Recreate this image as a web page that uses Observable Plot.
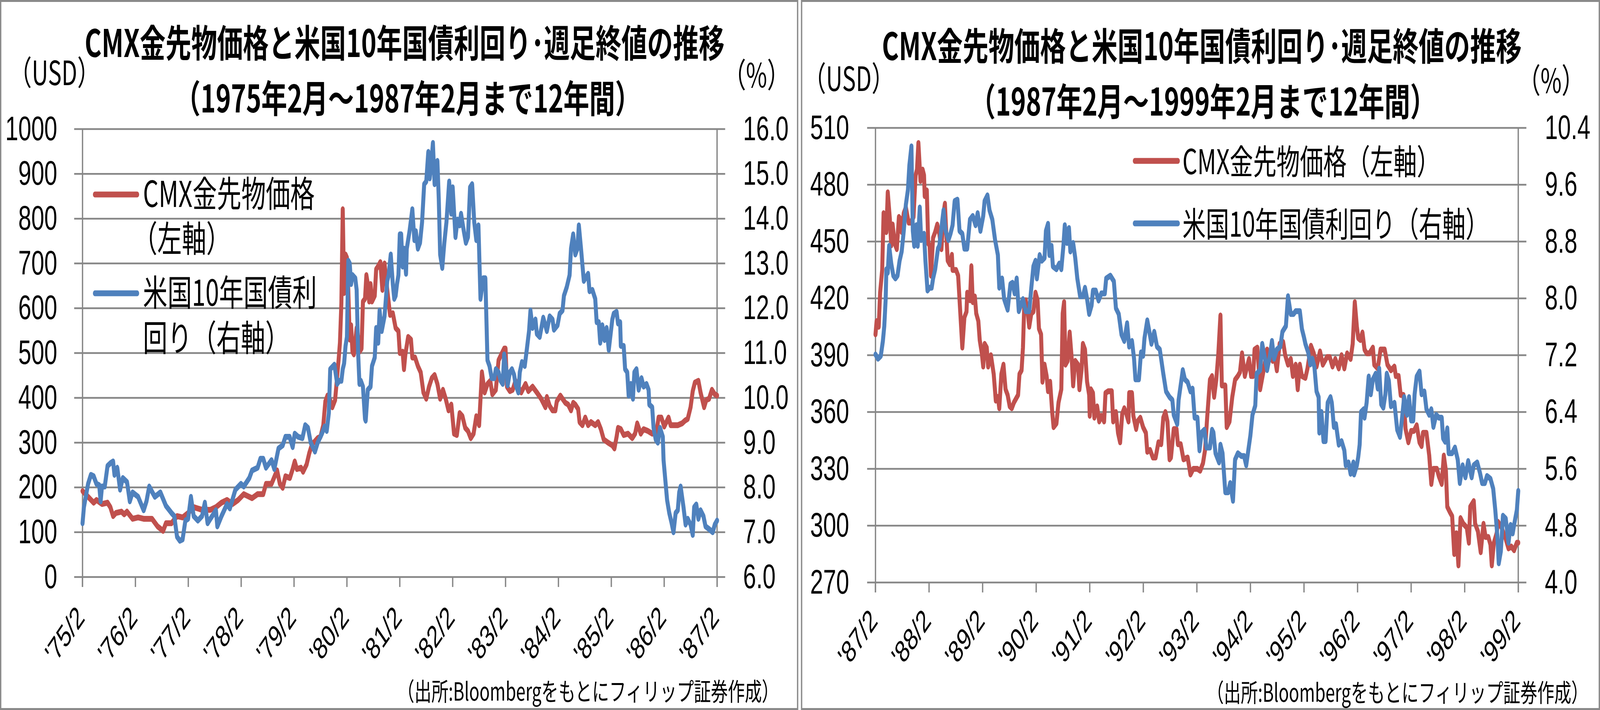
<!DOCTYPE html>
<html><head><meta charset="utf-8">
<script src="https://cdn.jsdelivr.net/npm/d3@7"></script>
<script src="https://cdn.jsdelivr.net/npm/@observablehq/plot@0.6"></script>
<style>
html,body{margin:0;padding:0;background:#fff;overflow:hidden;}
#root{position:relative;width:6019px;height:1818px;overflow:hidden;background:#fff;font-family:"Noto Sans CJK JP","Noto Sans",sans-serif;transform-origin:0 0;}
.panel{position:absolute;top:0;height:1818px;}
.panel svg{position:absolute;left:0;top:0;}
.frame{position:absolute;left:0;top:0;right:0;bottom:0;border:5px solid #8a8a8a;box-sizing:border-box;pointer-events:none;}
</style></head><body><div id="root"></div>
<script>
// ---------- data (x = years elapsed since the first February tick) ----------
const titleMain = "CMX金先物価格と米国10年国債利回り･週足終値の推移";
const titleSubA = "（1975年2月～1987年2月まで12年間）";
const titleSubB = "（1987年2月～1999年2月まで12年間）";
const legendGold = "CMX金先物価格";
const legendYield = "米国10年国債利回り";
const sourceNote = "（出所:Bloombergをもとにフィリップ証券作成）";

const xLabelsA = ["'75/2","'76/2","'77/2","'78/2","'79/2","'80/2","'81/2","'82/2","'83/2","'84/2","'85/2","'86/2","'87/2"];
const xLabelsB = ["'87/2","'88/2","'89/2","'90/2","'91/2","'92/2","'93/2","'94/2","'95/2","'96/2","'97/2","'98/2","'99/2"];
const leftTicksA = [0,100,200,300,400,500,600,700,800,900,1000];
const rightTicksA = [6,7,8,9,10,11,12,13,14,15,16];
const leftTicksB = [270,300,330,360,390,420,450,480,510];
const rightTicksB = [4.0,4.8,5.6,6.4,7.2,8.0,8.8,9.6,10.4];

const goldA = [[0,192],[0.105,179],[0.21,166],[0.263,172],[0.368,163],[0.473,166],[0.526,156],[0.578,136],[0.631,143],[0.736,146],[0.788,140],[0.841,146],[0.946,130],[1.051,133],[1.156,130],[1.314,130],[1.419,113],[1.524,103],[1.577,120],[1.682,120],[1.787,136],[1.892,133],[1.997,143],[2.102,156],[2.26,150],[2.418,150],[2.523,156],[2.628,166],[2.733,172],[2.838,163],[2.943,172],[3.049,185],[3.101,182],[3.206,176],[3.311,185],[3.417,185],[3.469,208],[3.574,208],[3.679,238],[3.732,208],[3.785,199],[3.837,225],[3.921,221],[3.974,241],[4.013,258],[4.053,241],[4.132,244],[4.171,235],[4.237,251],[4.289,277],[4.342,297],[4.395,303],[4.447,310],[4.5,313],[4.553,339],[4.592,392],[4.632,405],[4.684,395],[4.724,379],[4.776,395],[4.803,431],[4.842,484],[4.868,523],[4.895,611],[4.921,821],[4.947,634],[4.974,720],[5,713],[5.026,641],[5.053,530],[5.079,562],[5.105,503],[5.132,497],[5.184,556],[5.211,536],[5.237,503],[5.276,510],[5.303,615],[5.342,621],[5.368,674],[5.395,654],[5.421,615],[5.447,654],[5.474,615],[5.526,628],[5.553,687],[5.592,694],[5.632,703],[5.671,641],[5.711,700],[5.763,641],[5.816,585],[5.868,589],[5.921,556],[5.974,549],[6,500],[6.053,503],[6.079,464],[6.105,497],[6.158,536],[6.211,530],[6.237,490],[6.289,490],[6.342,471],[6.395,457],[6.447,412],[6.5,398],[6.553,425],[6.605,444],[6.658,451],[6.711,431],[6.763,398],[6.816,418],[6.868,398],[6.921,372],[6.974,385],[7.026,320],[7.079,317],[7.132,366],[7.184,359],[7.237,333],[7.289,326],[7.342,310],[7.395,320],[7.447,359],[7.5,339],[7.553,457],[7.605,412],[7.658,431],[7.711,438],[7.75,408],[7.816,418],[7.868,484],[7.921,497],[7.974,510],[8,510],[8.027,425],[8.081,415],[8.135,418],[8.188,438],[8.242,425],[8.296,412],[8.377,431],[8.431,415],[8.511,425],[8.592,412],[8.673,398],[8.754,379],[8.781,402],[8.834,382],[8.888,372],[8.942,372],[8.969,392],[9.036,405],[9.077,398],[9.131,389],[9.184,385],[9.238,372],[9.279,389],[9.319,385],[9.373,375],[9.4,346],[9.454,339],[9.507,356],[9.561,339],[9.615,346],[9.696,339],[9.75,346],[9.803,330],[9.857,307],[9.938,300],[10.019,294],[10.059,287],[10.1,313],[10.127,333],[10.18,330],[10.234,317],[10.315,320],[10.396,310],[10.45,320],[10.49,343],[10.557,320],[10.611,330],[10.692,326],[10.773,320],[10.853,323],[10.894,356],[10.947,356],[11.001,336],[11.082,356],[11.122,339],[11.257,339],[11.338,343],[11.392,349],[11.445,353],[11.499,379],[11.54,415],[11.58,434],[11.647,438],[11.688,412],[11.755,379],[11.795,395],[11.849,398],[11.903,418],[11.957,408],[12,405]];

const yieldA = [[0,7.2],[0.026,7.56],[0.105,8.08],[0.158,8.28],[0.21,8.25],[0.263,8.08],[0.315,8.05],[0.342,7.69],[0.368,8.02],[0.42,8.02],[0.473,8.48],[0.526,8.54],[0.578,8.58],[0.604,8.28],[0.657,8.44],[0.71,7.95],[0.762,8.21],[0.841,8.12],[0.894,7.69],[0.946,7.89],[1.051,7.79],[1.156,7.49],[1.209,7.69],[1.261,8.02],[1.367,7.79],[1.472,7.89],[1.577,7.59],[1.682,7.43],[1.735,7.36],[1.787,6.9],[1.84,6.81],[1.892,6.84],[1.945,7.26],[1.997,7.3],[2.05,7.79],[2.102,7.36],[2.181,7.26],[2.26,7.36],[2.313,7.66],[2.365,7.2],[2.418,7.3],[2.523,7.49],[2.549,7.13],[2.628,7.36],[2.733,7.63],[2.786,7.53],[2.891,7.95],[2.996,8.08],[3.049,8.02],[3.154,8.21],[3.206,8.38],[3.311,8.44],[3.364,8.64],[3.417,8.64],[3.469,8.44],[3.574,8.61],[3.627,8.41],[3.706,8.87],[3.785,8.94],[3.837,9.13],[3.916,9.13],[3.974,8.9],[4.013,9.2],[4.079,9.13],[4.158,9.1],[4.211,9.39],[4.263,9.33],[4.316,9.0],[4.395,8.8],[4.447,9.0],[4.526,9.2],[4.579,9.36],[4.618,9.26],[4.658,9.66],[4.684,10.64],[4.763,10.74],[4.816,10.31],[4.855,10.38],[4.895,10.38],[4.921,10.64],[4.947,10.77],[4.974,11.16],[5,11.36],[5.026,13.06],[5.053,13.0],[5.079,12.54],[5.105,12.74],[5.158,12.67],[5.184,12.41],[5.211,11.03],[5.237,10.31],[5.263,10.38],[5.303,10.25],[5.342,9.53],[5.355,9.49],[5.395,10.18],[5.447,10.25],[5.474,10.71],[5.526,10.9],[5.553,11.56],[5.592,11.23],[5.618,11.95],[5.658,11.49],[5.711,11.82],[5.763,12.61],[5.789,12.74],[5.829,13.2],[5.868,12.54],[5.895,12.21],[5.921,12.28],[5.947,12.54],[5.974,12.74],[6,13.65],[6.026,13.65],[6.053,12.93],[6.079,13.33],[6.118,12.77],[6.132,13.33],[6.184,13.72],[6.237,14.21],[6.276,13.52],[6.303,13.72],[6.342,13.33],[6.382,13.46],[6.421,13.92],[6.461,14.77],[6.5,14.83],[6.539,15.49],[6.566,14.9],[6.605,15.36],[6.626,15.69],[6.658,14.77],[6.684,15.23],[6.711,15.29],[6.737,14.44],[6.763,13.2],[6.803,12.9],[6.842,13.46],[6.882,13.92],[6.934,14.83],[6.974,14.11],[7,14.7],[7.053,13.59],[7.092,13.98],[7.132,13.85],[7.158,14.11],[7.211,13.72],[7.25,13.46],[7.289,13.59],[7.329,14.7],[7.368,14.77],[7.408,13.92],[7.447,13.52],[7.487,13.85],[7.526,12.21],[7.579,12.67],[7.618,12.67],[7.658,10.84],[7.697,10.71],[7.737,10.44],[7.789,10.44],[7.816,10.64],[7.868,10.57],[7.908,10.38],[7.947,10.31],[7.973,10.97],[8.013,10.64],[8.04,10.28],[8.081,10.57],[8.121,10.64],[8.162,10.51],[8.188,10.31],[8.242,10.12],[8.269,10.57],[8.31,10.8],[8.363,10.71],[8.404,11.1],[8.444,11.49],[8.471,11.95],[8.511,11.56],[8.565,11.75],[8.592,11.43],[8.646,11.36],[8.713,11.79],[8.781,11.49],[8.834,11.82],[8.888,11.75],[8.915,11.52],[8.983,11.62],[9.023,11.88],[9.077,11.95],[9.104,12.28],[9.157,12.47],[9.211,12.74],[9.238,13.33],[9.279,13.65],[9.319,13.2],[9.359,13.33],[9.386,13.85],[9.427,13.33],[9.48,12.61],[9.561,12.77],[9.588,12.38],[9.642,12.41],[9.696,12.21],[9.723,11.69],[9.763,11.69],[9.79,11.23],[9.83,11.62],[9.871,11.29],[9.911,11.56],[9.952,11.07],[10.019,11.75],[10.046,11.88],[10.1,11.92],[10.127,11.66],[10.167,11.69],[10.18,11.16],[10.234,11.16],[10.261,10.64],[10.301,10.57],[10.328,10.05],[10.369,10.31],[10.409,9.98],[10.436,10.57],[10.476,10.64],[10.517,10.18],[10.571,10.44],[10.611,10.25],[10.665,10.31],[10.705,10.18],[10.719,9.85],[10.773,9.79],[10.799,9.33],[10.84,9.07],[10.88,9.0],[10.921,9.33],[10.974,9.13],[10.988,8.61],[11.028,8.08],[11.055,7.72],[11.096,7.43],[11.136,7.23],[11.176,7.0],[11.217,7.43],[11.257,7.49],[11.284,7.89],[11.311,8.02],[11.365,7.56],[11.405,7.17],[11.445,7.3],[11.499,7.17],[11.54,6.94],[11.567,7.56],[11.607,7.62],[11.647,7.3],[11.688,7.49],[11.742,7.36],[11.782,7.13],[11.849,7.07],[11.917,7.0],[11.957,7.17],[12,7.26]];

const goldB = [[0,401],[0.021,408],[0.06,405],[0.086,423],[0.125,435],[0.151,465],[0.19,463],[0.203,455],[0.229,476],[0.268,462],[0.294,448],[0.32,459],[0.359,449],[0.398,446],[0.437,463],[0.463,462],[0.489,455],[0.528,465],[0.567,468],[0.619,460],[0.658,460],[0.71,463],[0.749,485],[0.775,488],[0.801,502],[0.84,482],[0.88,488],[0.906,485],[0.919,474],[0.958,477],[0.984,449],[1.01,448],[1.036,432],[1.075,452],[1.114,455],[1.153,459],[1.192,454],[1.231,446],[1.27,465],[1.296,470],[1.322,454],[1.348,440],[1.387,438],[1.426,443],[1.439,435],[1.504,435],[1.543,432],[1.582,413],[1.621,394],[1.66,410],[1.699,413],[1.712,423],[1.764,419],[1.79,437],[1.816,418],[1.855,421],[1.881,412],[1.92,408],[1.946,398],[1.985,391],[2.011,384],[2.037,396],[2.077,394],[2.103,384],[2.155,390],[2.207,380],[2.246,366],[2.285,368],[2.311,362],[2.35,380],[2.389,385],[2.428,372],[2.467,369],[2.506,363],[2.545,362],[2.584,365],[2.623,367],[2.662,369],[2.688,380],[2.727,382],[2.753,394],[2.779,418],[2.805,419],[2.844,412],[2.87,405],[2.909,412],[2.948,413],[2.987,423],[3.026,419],[3.052,404],[3.091,401],[3.117,376],[3.156,385],[3.195,379],[3.221,371],[3.26,376],[3.299,360],[3.325,352],[3.378,354],[3.417,365],[3.469,372],[3.495,412],[3.521,418],[3.547,385],[3.586,387],[3.625,402],[3.664,388],[3.69,374],[3.729,387],[3.781,385],[3.807,372],[3.846,382],[3.872,396],[3.911,393],[3.95,376],[3.989,369],[4.0,358],[4.021,372],[4.06,370],[4.086,357],[4.138,363],[4.177,355],[4.216,358],[4.268,355],[4.294,370],[4.346,371],[4.411,371],[4.437,355],[4.489,360],[4.528,349],[4.567,344],[4.606,359],[4.645,362],[4.684,359],[4.723,355],[4.736,370],[4.788,370],[4.814,358],[4.866,351],[4.892,355],[4.944,357],[4.996,352],[5.048,349],[5.074,339],[5.126,340],[5.178,336],[5.23,336],[5.282,344],[5.334,343],[5.373,357],[5.412,360],[5.451,355],[5.49,335],[5.516,336],[5.568,351],[5.62,351],[5.646,343],[5.698,343],[5.75,335],[5.828,336],[5.88,327],[5.932,330],[6.01,330],[6.062,329],[6.114,333],[6.153,340],[6.192,357],[6.244,377],[6.283,379],[6.322,368],[6.362,377],[6.401,391],[6.44,411],[6.466,374],[6.531,374],[6.557,352],[6.609,355],[6.661,368],[6.713,377],[6.765,379],[6.804,381],[6.843,391],[6.895,379],[6.973,388],[7.012,379],[7.051,379],[7.077,393],[7.129,394],[7.181,372],[7.233,380],[7.311,393],[7.363,390],[7.415,387],[7.441,391],[7.493,382],[7.545,396],[7.61,397],[7.649,390],[7.701,385],[7.753,388],[7.792,379],[7.844,385],[7.883,372],[7.922,385],[7.961,379],[8.026,378],[8.065,383],[8.13,395],[8.182,391],[8.234,384],[8.299,392],[8.351,385],[8.429,389],[8.481,389],[8.532,384],[8.584,388],[8.649,383],[8.701,390],[8.753,383],[8.805,391],[8.87,388],[8.909,396],[8.948,418],[8.987,405],[9.013,399],[9.052,398],[9.091,402],[9.13,393],[9.169,391],[9.221,391],[9.286,394],[9.312,385],[9.377,383],[9.429,393],[9.506,393],[9.558,385],[9.623,382],[9.688,384],[9.714,379],[9.766,379],[9.805,369],[9.857,369],[9.896,351],[9.948,344],[10,350],[10.052,350],[10.104,353],[10.156,344],[10.195,342],[10.221,349],[10.286,349],[10.338,337],[10.377,322],[10.416,330],[10.481,330],[10.519,326],[10.571,322],[10.61,337],[10.649,329],[10.675,310],[10.727,307],[10.766,305],[10.805,285],[10.844,296],[10.883,279],[10.922,304],[10.974,301],[11.039,299],[11.078,291],[11.104,310],[11.169,313],[11.195,301],[11.247,297],[11.299,286],[11.351,301],[11.39,294],[11.442,294],[11.481,290],[11.506,279],[11.545,291],[11.597,296],[11.623,302],[11.688,299],[11.766,293],[11.818,288],[11.87,289],[11.922,287],[11.974,291],[12,291]];

const yieldB = [[0,7.21],[0.047,7.15],[0.099,7.19],[0.138,7.4],[0.164,7.61],[0.19,7.99],[0.203,8.41],[0.229,8.36],[0.255,8.74],[0.294,8.49],[0.333,8.32],[0.372,8.28],[0.411,8.32],[0.45,8.53],[0.489,8.66],[0.528,8.95],[0.567,9.32],[0.606,9.53],[0.632,9.87],[0.671,10.14],[0.697,8.95],[0.723,8.74],[0.762,9.03],[0.788,8.74],[0.827,9.28],[0.853,8.82],[0.906,8.91],[0.932,8.53],[0.971,8.11],[1.01,8.15],[1.049,8.15],[1.075,8.28],[1.114,8.41],[1.166,8.7],[1.192,8.74],[1.231,8.99],[1.27,9.24],[1.309,8.95],[1.361,8.82],[1.4,8.91],[1.439,9.03],[1.478,9.37],[1.53,9.39],[1.569,8.95],[1.621,8.91],[1.66,8.7],[1.712,8.7],[1.764,9.11],[1.816,9.16],[1.868,9.03],[1.907,9.2],[1.959,8.95],[2.011,9.16],[2.037,9.37],[2.09,9.45],[2.129,9.24],[2.181,9.11],[2.233,8.82],[2.285,8.61],[2.311,8.15],[2.363,8.28],[2.402,7.99],[2.467,7.84],[2.519,8.2],[2.558,8.22],[2.597,8.07],[2.636,8.28],[2.675,7.82],[2.753,7.99],[2.805,7.82],[2.87,7.82],[2.909,8.15],[2.948,8.45],[2.987,8.53],[3.013,8.28],[3.065,8.61],[3.104,8.53],[3.156,8.57],[3.182,8.95],[3.221,9.05],[3.247,8.61],[3.286,8.74],[3.312,8.45],[3.378,8.41],[3.43,8.49],[3.469,8.41],[3.508,8.74],[3.534,9.03],[3.573,8.78],[3.612,8.99],[3.638,8.66],[3.69,8.78],[3.729,8.57],[3.768,8.28],[3.82,8.03],[3.872,8.03],[3.911,8.15],[3.95,7.99],[3.989,7.78],[4.034,7.9],[4.06,8.11],[4.112,8.11],[4.164,7.97],[4.216,8.07],[4.281,8.07],[4.307,8.28],[4.385,8.32],[4.45,8.24],[4.489,7.86],[4.541,7.78],[4.593,7.49],[4.645,7.4],[4.697,7.65],[4.736,7.32],[4.788,7.4],[4.827,7.15],[4.853,6.86],[4.918,6.86],[4.957,7.24],[4.996,7.19],[5.022,7.44],[5.074,7.69],[5.113,7.53],[5.152,7.36],[5.204,7.53],[5.256,7.32],[5.308,7.28],[5.373,6.94],[5.425,6.69],[5.49,6.61],[5.542,6.57],[5.568,6.36],[5.633,6.23],[5.659,6.57],[5.698,6.78],[5.737,6.99],[5.776,6.86],[5.828,6.82],[5.88,6.69],[5.919,6.73],[5.958,6.32],[6.01,6.32],[6.049,5.86],[6.088,6.11],[6.14,6.15],[6.179,5.9],[6.244,5.9],[6.283,6.15],[6.309,6.11],[6.348,5.82],[6.414,5.69],[6.44,5.94],[6.479,5.82],[6.531,5.27],[6.583,5.27],[6.622,5.4],[6.674,5.15],[6.713,5.73],[6.765,5.82],[6.83,5.78],[6.882,5.78],[6.921,5.65],[6.96,5.86],[6.999,6.07],[7.038,6.36],[7.09,6.49],[7.116,6.94],[7.181,6.99],[7.22,7.36],[7.272,7.15],[7.311,6.99],[7.363,7.19],[7.402,7.4],[7.441,7.15],[7.493,7.28],[7.558,7.32],[7.597,7.53],[7.662,7.61],[7.701,8.03],[7.753,7.78],[7.805,7.78],[7.844,7.82],[7.883,7.82],[7.922,7.82],[7.961,7.57],[8,7.45],[8.026,7.36],[8.078,7.24],[8.117,7.07],[8.156,7.15],[8.195,7.03],[8.234,6.69],[8.273,6.61],[8.286,6.11],[8.325,6.4],[8.364,5.99],[8.403,5.99],[8.442,6.53],[8.494,6.61],[8.519,6.53],[8.558,6.19],[8.597,6.23],[8.649,5.94],[8.701,5.99],[8.753,5.86],[8.779,5.65],[8.831,5.69],[8.87,5.53],[8.922,5.69],[8.935,5.52],[8.987,5.65],[9.013,5.77],[9.039,5.94],[9.065,6.4],[9.117,6.44],[9.13,6.32],[9.169,6.53],[9.208,6.9],[9.247,6.65],[9.286,6.86],[9.338,6.94],[9.377,6.73],[9.403,7.01],[9.442,6.51],[9.481,6.46],[9.519,6.65],[9.545,6.94],[9.584,6.84],[9.623,6.48],[9.688,6.53],[9.74,6.15],[9.792,6.05],[9.831,6.32],[9.87,6.61],[9.922,6.36],[9.961,6.61],[10,6.28],[10.039,6.28],[10.065,6.65],[10.104,6.9],[10.156,6.97],[10.195,6.65],[10.247,6.69],[10.286,6.44],[10.338,6.36],[10.377,6.44],[10.416,6.19],[10.468,6.36],[10.519,6.32],[10.571,6.32],[10.597,6.03],[10.636,5.98],[10.675,6.17],[10.701,5.82],[10.766,5.82],[10.818,5.9],[10.87,5.73],[10.909,5.4],[10.961,5.65],[11.013,5.48],[11.065,5.71],[11.13,5.48],[11.169,5.65],[11.234,5.69],[11.286,5.54],[11.325,5.4],[11.377,5.4],[11.416,5.5],[11.481,5.46],[11.532,5.32],[11.571,5.02],[11.61,4.65],[11.636,4.27],[11.675,4.44],[11.714,4.94],[11.766,4.9],[11.818,4.56],[11.857,4.81],[11.896,4.69],[11.922,4.81],[11.974,5.02],[12,5.29]];

// ---------- drawing ----------
const FONT = '"Noto Sans CJK JP","Noto Sans",sans-serif';
const NUMFONT = '"Liberation Sans","DejaVu Sans",sans-serif';
const RED = "#C0504D", BLUE = "#4F81BD", GRID = "#878787";
const root = document.getElementById("root");

// one <text> element; several lines become tspans
function addText(svg, x, y, lines, size, opts = {}) {
  const arr = Array.isArray(lines) ? lines : [lines];
  const t = svg.append("text").attr("x", x).attr("y", y)
    .attr("font-size", size).attr("font-weight", opts.weight || 400)
    .attr("text-anchor", opts.anchor || "start").attr("fill", "#000");
  arr.forEach((s, i) => {
    const sp = t.append("tspan").attr("x", i === 0 ? x : (opts.xs && opts.xs[i] != null ? opts.xs[i] : x)).text(s);
    if (i > 0) sp.attr("dy", opts.lineGap[i - 1]);
  });
}

function panel(cfg) {
  const div = document.createElement("div");
  div.className = "panel";
  div.style.left = cfg.left + "px";
  div.style.width = cfg.width + "px";
  root.appendChild(div);

  const gold = cfg.gold.map(([t, v]) => ({t, v}));
  const yl = cfg.yld.map(([t, v]) => ({t, v: cfg.toLeft(v)}));
  const years = d3.range(cfg.xLabels.length);
  const yMin = cfg.leftTicks[0], yMax = cfg.leftTicks[cfg.leftTicks.length - 1];

  const chart = Plot.plot({
    width: cfg.width, height: 1818,
    marginLeft: cfg.m[0], marginRight: cfg.m[1], marginTop: cfg.m[2], marginBottom: cfg.m[3],
    x: {domain: [0, 12], axis: null},
    y: {domain: [yMin, yMax], axis: null},
    style: {fontFamily: FONT, background: "transparent", color: "#000", overflow: "visible"},
    marks: [
      Plot.ruleY(cfg.leftTicks, {stroke: GRID, strokeWidth: 4.5, insetLeft: -31, insetRight: -31}),
      Plot.ruleX([0, 12], {stroke: GRID, strokeWidth: 5, insetBottom: -26}),
      Plot.ruleX(years, {x: d => d, y1: () => yMin, y2: () => yMin, insetBottom: -26, stroke: GRID, strokeWidth: 5}),
      Plot.line(gold, {x: "t", y: "v", stroke: RED, strokeWidth: 15, strokeLinejoin: "round", strokeLinecap: "round"}),
      Plot.line(yl, {x: "t", y: "v", stroke: BLUE, strokeWidth: 15, strokeLinejoin: "round", strokeLinecap: "round"}),
      Plot.axisY({anchor: "left", ticks: cfg.leftTicks, tickSize: 0, tickPadding: cfg.padL, fontSize: 88, fontFamily: NUMFONT, label: null, tickFormat: d => String(d)}),
      Plot.axisY({anchor: "right", ticks: cfg.rightTicks.map(cfg.toLeft), tickSize: 0, tickPadding: cfg.padR, fontSize: 88, fontFamily: NUMFONT, label: null, tickFormat: d => cfg.fromLeft(d).toFixed(1)}),
      Plot.text(years, {x: d => d, frameAnchor: "bottom", text: d => cfg.xLabels[d], rotate: -45, textAnchor: "end", lineAnchor: "middle", dx: -6, dy: cfg.labelDy, fontSize: 79, fontFamily: NUMFONT, fill: "#000"})
    ]
  });
  div.appendChild(chart);

  const ov = d3.select(div).append("svg")
    .attr("width", cfg.width).attr("height", 1818)
    .style("font-family", FONT);
  const T = cfg.text;
  addText(ov, T.title[0], T.title[1], [titleMain, cfg.sub], 97, {weight: 700, anchor: "middle", lineGap: [T.title[2]], xs: [null, T.title[3]]});
  addText(ov, T.usd[0], T.usd[1], "（USD）", 86, {anchor: "middle"});
  addText(ov, T.pct[0], T.pct[1], "（%）", 86, {anchor: "middle"});
  addText(ov, T.note[0], T.note[1], sourceNote, 64, {anchor: "end"});
  for (const L of T.legend) {
    ov.append("line").attr("x1", L.x1).attr("x2", L.x2).attr("y1", L.y).attr("y2", L.y)
      .attr("stroke", L.color).attr("stroke-width", 15).attr("stroke-linecap", "round");
  }
  for (const s of T.legendText) addText(ov, s.x, s.y, s.lines, s.size, {lineGap: s.gap, xs: s.xs});

  const fr = document.createElement("div");
  fr.className = "frame";
  div.appendChild(fr);
}

panel({
  left: 0, width: 3003, m: [310, 306, 330, 341],
  gold: goldA, yld: yieldA,
  toLeft: v => (v - 6) * 100, fromLeft: d => d / 100 + 6,
  leftTicks: leftTicksA, rightTicks: rightTicksA, xLabels: xLabelsA,
  padL: 95, padR: 98, sub: titleSubA, labelDy: 90,
  text: {
    title: [1522, 146, 142, 1534], usd: [205, 218], pct: [2846, 224], note: [2930, 1794],
    legend: [{x1: 357, x2: 516, y: 498, color: RED}, {x1: 357, x2: 516, y: 751, color: BLUE}],
    legendText: [
      {x: 538, y: 530, lines: [legendGold, "（左軸）"], size: 92, gap: [115], xs: [null, 500]},
      {x: 538, y: 783, lines: ["米国10年国債利", "回り（右軸）"], size: 92, gap: [116]}
    ]
  }
});

panel({
  left: 3013, width: 3006, m: [280, 308, 327, 327],
  gold: goldB, yld: yieldB,
  toLeft: v => 270 + (v - 4) * 37.5, fromLeft: d => (d - 270) / 37.5 + 4,
  leftTicks: leftTicksB, rightTicks: rightTicksB, xLabels: xLabelsB,
  padL: 99, padR: 100, sub: titleSubB, labelDy: 84,
  text: {
    title: [1508, 154, 142, 1512], usd: [180, 233], pct: [2822, 238], note: [2962, 1797],
    legend: [{x1: 1256, x2: 1418, y: 412, color: RED}, {x1: 1256, x2: 1418, y: 572, color: BLUE}],
    legendText: [
      {x: 1435, y: 446, lines: [legendGold + "（左軸）"], size: 88},
      {x: 1435, y: 606, lines: [legendYield + "（右軸）"], size: 88}
    ]
  }
});

// fit the 6019x1818 composition into whatever viewport the page is given
function fit() {
  const sx = (window.innerWidth || 6019) / 6019;
  const sy = (window.innerHeight || 1818) / 1818;
  root.style.transform = (Math.abs(sx - 1) < 1e-3 && Math.abs(sy - 1) < 1e-3) ? "none" : `scale(${sx}, ${sy})`;
}
fit();
window.addEventListener("resize", fit);
</script>
</body></html>
